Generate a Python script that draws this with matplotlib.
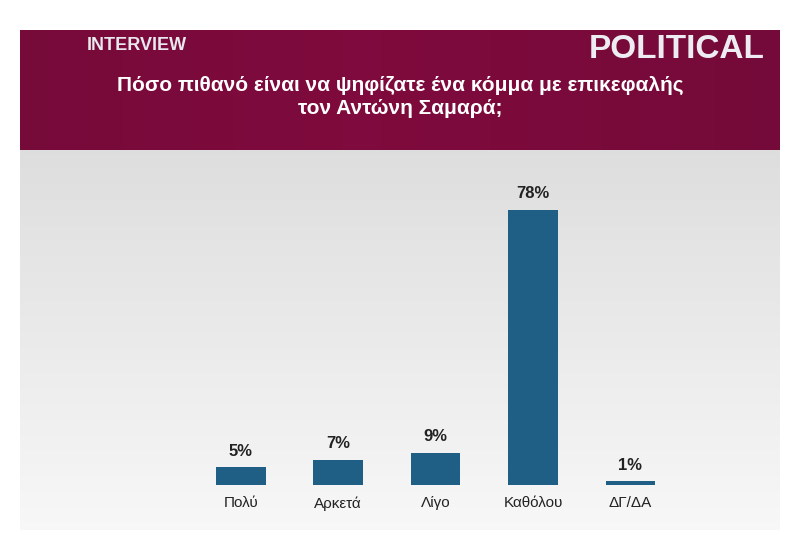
import matplotlib
matplotlib.use("Agg")
import matplotlib.pyplot as plt
import numpy as np

plt.rcParams['font.family'] = ['Liberation Sans', 'DejaVu Sans']

categories = ["Πολύ", "Αρκετά", "Λίγο", "Καθόλου", "ΔΓ/ΔΑ"]
values = [5, 7, 9, 78, 1]
value_labels = ["5%", "7%", "9%", "78%", "1%"]
title = "Πόσο πιθανό είναι να ψηφίζατε ένα κόμμα με επικεφαλής\nτον Αντώνη Σαμαρά;"

W, H = 800, 559
fig = plt.figure(figsize=(W/100, H/100), dpi=100)
fig.patch.set_facecolor("white")

def fa(x0, y0, x1, y1):
    return [x0/W, 1-y1/H, (x1-x0)/W, (y1-y0)/H]

bg = fig.add_axes(fa(20, 150, 780, 530))
grad = np.linspace(0.87, 0.97, 100)[:, None] * np.ones((1, 10))
bg.imshow(np.dstack([grad, grad, grad]), aspect="auto", extent=[0, 1, 0, 1])
bg.axis("off")

ban = fig.add_axes(fa(20, 30, 780, 150))
g = np.linspace(0, 1, 200)
r = 0.50 - 0.08*np.abs(g-0.45); gg = 0.04 + 0.0*g; b = 0.24 - 0.03*np.abs(g-0.45)
img = np.dstack([np.tile(r, (20, 1)), np.tile(gg, (20, 1)), np.tile(b, (20, 1))])
ban.imshow(img, aspect="auto", extent=[0, 1, 0, 1])
ban.axis("off")
fig.text(87/W, 1-46/H, "INTERVIEW", color="#e8e8ee", fontsize=13, fontweight="bold", va="center")
fig.text(765/W, 1-50/H, "POLITICAL", color="#ececf2", fontsize=24, fontweight="bold", va="center", ha="right")
fig.text(400/W, 1-97/H, title, color="white", fontsize=15, fontweight="bold", ha="center", va="center", linespacing=1.25)

ax = fig.add_axes(fa(200, 180, 680, 485))
ax.patch.set_alpha(0)
x = np.arange(len(categories))
ax.bar(x, values, width=0.51, color="#1f5f85")
for xi, v, lab in zip(x, values, value_labels):
    ax.text(xi, v + 2.5, lab, ha="center", va="bottom", fontsize=12, fontweight="bold", color="#222222")
ax.set_xlim(-0.42, 4.51)
ax.set_ylim(0, 86.4)
ax.set_xticks(x)
ax.set_xticklabels(categories, fontsize=11, color="#222222")
ax.tick_params(length=0, pad=8)
ax.set_yticks([])
for s in ax.spines.values():
    s.set_visible(False)

fig.savefig("out.png", dpi=100)
